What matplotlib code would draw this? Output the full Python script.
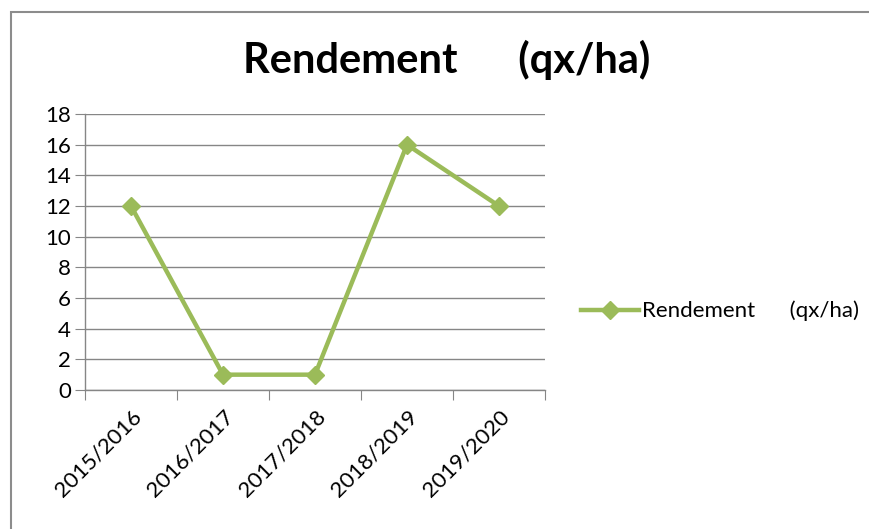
import matplotlib
matplotlib.use("Agg")
from matplotlib import pyplot as plt
from matplotlib.patches import Rectangle
from matplotlib.lines import Line2D

# Data
campagnes = ["2015/2016", "2016/2017", "2017/2018", "2018/2019", "2019/2020"]
rendement = [12, 1, 1, 16, 12]
serie_label = "Rendement      (qx/ha)"
titre = "Rendement      (qx/ha)"

green = "#9BBB59"
grid_gray = "#868686"
plt.rcParams["font.family"] = ["Lato", "DejaVu Sans"]

fig = plt.figure(figsize=(8.7, 5.29), dpi=100)

# Outer chart frame
fig.patches.append(Rectangle((11 / 870, -0.05), 1.0, 1 - 12 / 529 + 0.05,
                             transform=fig.transFigure, fill=False,
                             edgecolor="#8c8c8c", linewidth=1.5))

ax = fig.add_axes([85 / 870, 1 - 390 / 529, 460 / 870, 276 / 529])
x = list(range(len(campagnes)))
ax.plot(x, rendement, color=green, linewidth=3.2, marker="D", markersize=9,
        markerfacecolor=green, markeredgecolor=green)

ax.set_xlim(-0.5, len(campagnes) - 0.5)
ax.set_ylim(0, 18)
ax.set_yticks(range(0, 19, 2))
ax.yaxis.grid(True, color=grid_gray, linewidth=1)
ax.set_axisbelow(True)

for side in ["top", "right"]:
    ax.spines[side].set_visible(False)
for side in ["left", "bottom"]:
    ax.spines[side].set_color(grid_gray)
    ax.spines[side].set_linewidth(1)

# Category ticks at boundaries, labels at centers
ax.set_xticks([i - 0.5 for i in range(len(campagnes) + 1)])
ax.set_xticklabels([])
ax.set_xticks(x, minor=True)
ax.set_xticklabels(campagnes, minor=True, rotation=45, ha="right",
                   rotation_mode="anchor", fontsize=16)
ax.tick_params(axis="x", which="major", length=7, color=grid_gray, direction="out")
ax.tick_params(axis="x", which="minor", length=0, pad=12)
ax.tick_params(axis="y", length=7, color=grid_gray, labelsize=16, pad=3)

fig.text(447 / 870, 1 - 60 / 529, titre, ha="center", va="center",
         fontsize=30, fontweight="bold")

handle = Line2D([], [], color=green, linewidth=3.2, marker="D", markersize=9)
fig.legend([handle], [serie_label], loc="center left",
           bbox_to_anchor=(561 / 870, 1 - 311 / 529), frameon=False,
           fontsize=16, handlelength=2.6, handletextpad=0.15)

fig.savefig("out.png", dpi=100)
